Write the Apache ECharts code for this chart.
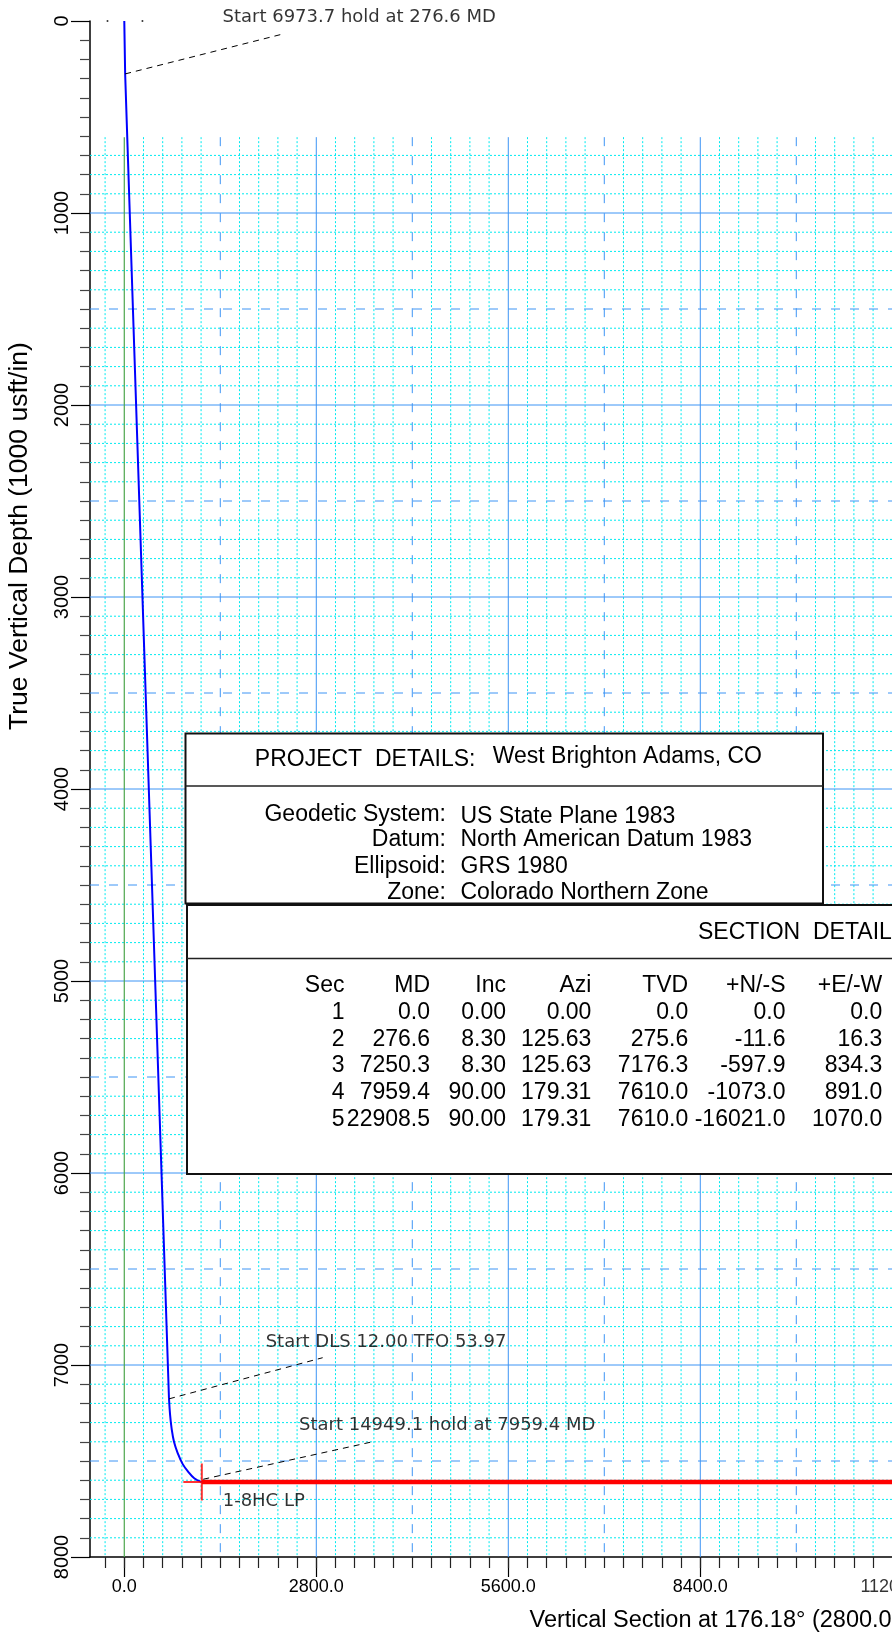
<!DOCTYPE html>
<html><head><meta charset="utf-8">
<script src="https://cdn.jsdelivr.net/npm/echarts@6/dist/echarts.min.js"></script>
<style>html,body{margin:0;padding:0;background:#fff}#c{width:892px;height:1635px}</style>
</head><body><div id="c"></div>
<script>
// ---------------- data ----------------
const tvdMajorStep = 1000;
const tvdMinorStep = 100;
const vsMajorTicks = [0, 2800, 5600, 8400, 11200];
const vsMinorStep = 280;
const gridTopTVD = 605;

// well path (vertical section ft, true vertical depth ft)
const holdVS  = [0, 12.7, 652.2];
const holdTVD = [0, 275.6, 7176.3];
const buildVS  = [652.2, 668, 690, 725, 780, 850, 930, 1020, 1130.6];
const buildTVD = [7176.3, 7260, 7330, 7400, 7460, 7515, 7555, 7590, 7610.0];
const lateralVS  = [1130.6, 16056.8];
const lateralTVD = [7610.0, 7610.0];
const targetName = '1-8HC LP';
const targetVS = 1130.6, targetTVD = 7610.0;

// annotations
const noteTexts = ['Start 6973.7 hold at 276.6 MD', 'Start DLS 12.00 TFO 53.97', 'Start 14949.1 hold at 7959.4 MD', '1-8HC LP'];
const noteVS  = [1432, 2062, 2548, 1435];
const noteTVD = [-21, 6884, 7315, 7710];
const leaderFromVS  = [12.7, 652.2, 1152];
const leaderFromTVD = [275.6, 7176.3, 7595];
const leaderToVS    = [2310, 2893, 3631];
const leaderToTVD   = [68, 6962, 7399];
const dotVS = [-245, 265];
const dotTVD = [0, 0];

// project details
const projectTitle = 'PROJECT  DETAILS:';
const projectName = 'West Brighton Adams, CO';
const projectLabels = ['Geodetic System:', 'Datum:', 'Ellipsoid:', 'Zone:'];
const projectValues = ['US State Plane 1983', 'North American Datum 1983', 'GRS 1980', 'Colorado Northern Zone'];

// section details
const sectionTitle = 'SECTION  DETAILS';
const secHeaders = ['Sec', 'MD', 'Inc', 'Azi', 'TVD', '+N/-S', '+E/-W'];
const secNo  = ['1', '2', '3', '4', '5'];
const secMD  = ['0.0', '276.6', '7250.3', '7959.4', '22908.5'];
const secInc = ['0.00', '8.30', '8.30', '90.00', '90.00'];
const secAzi = ['0.00', '125.63', '125.63', '179.31', '179.31'];
const secTVD = ['0.0', '275.6', '7176.3', '7610.0', '7610.0'];
const secNS  = ['0.0', '-11.6', '-597.9', '-1073.0', '-16021.0'];
const secEW  = ['0.0', '16.3', '834.3', '891.0', '1070.0'];

const xTitle = 'Vertical Section at 176.18\u00b0 (2800.0 usft/in)';
const yTitle = 'True Vertical Depth (1000 usft/in)';

// ---------------- chart ----------------
const GRID_LEFT = 90, GRID_TOP = 21, GRID_H = 1536, PX_PER_2800 = 192;
const X_MIN = -500, Y_MIN = 0, Y_MAX = 8000;
const X_MAX = X_MIN + (892 - GRID_LEFT) * 2800 / PX_PER_2800;
const vsMinorTicks = [];
for (let v = -vsMinorStep; v <= X_MAX; v += vsMinorStep) vsMinorTicks.push(v);
const vsShownMajor = vsMajorTicks.filter(v => v <= X_MAX);
const vsEdgeMajor = vsMajorTicks.filter(v => v > X_MAX);

const CYAN = '#00eaf0', BLUE = '#3d94f5', GREEN = '#4da64d';
const gridStyles = [
  {color: CYAN, width: 1, dash: [2, 2]},
  {color: BLUE, width: 1, dash: [9, 10]},
  {color: BLUE, width: 1, dash: null},
  {color: GREEN, width: 1.2, dash: null}
];
const gridLines = [];
for (let t = 700; t < Y_MAX; t += tvdMinorStep) {
  const k = t % tvdMajorStep === 0 ? 2 : (t % (tvdMajorStep / 2) === 0 ? 1 : 0);
  gridLines.push([X_MIN, t, X_MAX, t, k]);
}
for (const v of vsMinorTicks) {
  let k = 0;
  if (v === 0) k = 3; else if (v % 2800 === 0) k = 2; else if (v % 1400 === 0) k = 1;
  gridLines.push([v, gridTopTVD, v, Y_MAX, k]);
}
gridLines.sort((a, b) => a[4] - b[4]);

const lineRender = (styleFn) => (params, api) => {
  const p1 = api.coord([api.value(0), api.value(1)]);
  const p2 = api.coord([api.value(2), api.value(3)]);
  const s = styleFn(api);
  return {type: 'line', silent: true,
    shape: {x1: p1[0], y1: p1[1], x2: p2[0], y2: p2[1]},
    style: {stroke: s.color, lineWidth: s.width, lineDash: s.dash}};
};

const SANS = '"Liberation Sans", Arial, sans-serif';
const DEJA = '"DejaVu Sans", sans-serif';

const chart = echarts.init(document.getElementById('c'), null, {renderer: 'canvas'});

const graphics = [];
// project box
graphics.push({type: 'rect', z: 100, shape: {x: 185.5, y: 733.5, width: 637.5, height: 170},
  style: {fill: '#fff', stroke: '#111', lineWidth: 2}});
graphics.push({type: 'line', z: 101, shape: {x1: 185.5, y1: 786, x2: 823, y2: 786}, style: {stroke: '#222', lineWidth: 1.5}});
graphics.push({type: 'text', z: 102, style: {text: projectTitle, x: 475.5, y: 759.5, align: 'right', verticalAlign: 'middle', fontSize: 23, fontFamily: SANS, fill: '#000'}});
graphics.push({type: 'text', z: 102, style: {text: projectName, x: 492.7, y: 757, align: 'left', verticalAlign: 'middle', fontSize: 23, fontFamily: SANS, fill: '#000'}});
const labYs = [814.5, 840, 866.5, 893];
const valYs = [816.5, 839.5, 866.5, 893];
projectLabels.forEach((t, i) => graphics.push({type: 'text', z: 102, style: {text: t, x: 446, y: labYs[i], align: 'right', verticalAlign: 'middle', fontSize: 23, fontFamily: SANS, fill: '#000'}}));
projectValues.forEach((t, i) => graphics.push({type: 'text', z: 102, style: {text: t, x: 460.5, y: valYs[i], align: 'left', verticalAlign: 'middle', fontSize: 23, fontFamily: SANS, fill: '#000'}}));
// section box
graphics.push({type: 'rect', z: 100, shape: {x: 187, y: 905, width: 800, height: 269},
  style: {fill: '#fff', stroke: '#111', lineWidth: 2}});
graphics.push({type: 'line', z: 101, shape: {x1: 187, y1: 958.5, x2: 987, y2: 958.5}, style: {stroke: '#222', lineWidth: 1.5}});
graphics.push({type: 'text', z: 102, style: {text: sectionTitle, x: 698, y: 932.5, align: 'left', verticalAlign: 'middle', fontSize: 23, fontFamily: SANS, fill: '#000'}});
const colRight = [344.5, 430, 506, 591.4, 688.2, 785.5, 882.3];
const rowY = [985.7, 1012.3, 1039.3, 1065.7, 1092.7, 1119.7];
const cols = [secNo, secMD, secInc, secAzi, secTVD, secNS, secEW];
secHeaders.forEach((h, c) => {
  graphics.push({type: 'text', z: 102, style: {text: h, x: colRight[c], y: rowY[0], align: 'right', verticalAlign: 'middle', fontSize: 23, fontFamily: SANS, fill: '#000'}});
  cols[c].forEach((v, r) => graphics.push({type: 'text', z: 102, style: {text: v, x: colRight[c], y: rowY[r + 1], align: 'right', verticalAlign: 'middle', fontSize: 23, fontFamily: SANS, fill: '#000'}}));
});
// axis titles
graphics.push({type: 'text', z: 50, style: {text: xTitle, x: 529.5, y: 1621, align: 'left', verticalAlign: 'middle', fontSize: 23.5, fontFamily: SANS, fill: '#000'}});
graphics.push({type: 'text', z: 50, x: 20, y: 536, rotation: Math.PI / 2, style: {text: yTitle, x: 0, y: 0, align: 'center', verticalAlign: 'middle', fontSize: 26.5, fontFamily: SANS, fill: '#000'}});

const option = {
  animation: false,
  backgroundColor: '#fff',
  grid: {left: GRID_LEFT, top: GRID_TOP, right: 0, height: GRID_H},
  xAxis: [
    {type: 'value', min: X_MIN, max: X_MAX, position: 'bottom',
      axisLine: {show: true, onZero: false, lineStyle: {color: '#000', width: 1.5}},
      axisTick: {show: true, length: 20, customValues: vsShownMajor, lineStyle: {color: '#000', width: 1.2}},
      axisLabel: {customValues: vsShownMajor, formatter: v => Number(v).toFixed(1), fontSize: 18, fontFamily: SANS, color: '#000', margin: 21},
      splitLine: {show: false}},
    {type: 'value', min: X_MIN, max: X_MAX, position: 'bottom',
      axisLine: {show: false, onZero: false},
      axisTick: {show: true, length: 11, customValues: vsMinorTicks, lineStyle: {color: '#222', width: 1.2}},
      axisLabel: {show: false}, splitLine: {show: false}}
  ],
  yAxis: {type: 'value', inverse: true, min: Y_MIN, max: Y_MAX, interval: tvdMajorStep,
    axisLine: {show: true, onZero: false, lineStyle: {color: '#000', width: 1.5}},
    axisTick: {show: true, length: 19, lineStyle: {color: '#000', width: 1.2}},
    minorTick: {show: true, splitNumber: tvdMajorStep / tvdMinorStep, length: 10, lineStyle: {color: '#444', width: 1.2}},
    axisLabel: {rotate: 90, fontSize: 20, fontFamily: SANS, color: '#000', margin: 18, formatter: v => String(v)},
    splitLine: {show: false}, minorSplitLine: {show: false}},
  graphic: graphics,
  series: [
    {type: 'custom', name: 'grid', data: gridLines, encode: {x: [0, 2], y: [1, 3]}, z: 1, silent: true,
      renderItem: lineRender(api => gridStyles[api.value(4)])},
    {type: 'line', name: 'hold', data: holdVS.map((v, i) => [v, holdTVD[i]]), symbol: 'none', z: 5,
      lineStyle: {color: '#0000ff', width: 2}},
    {type: 'line', name: 'build', data: buildVS.map((v, i) => [v, buildTVD[i]]), symbol: 'none', z: 5, smooth: 0.4,
      lineStyle: {color: '#0000ff', width: 2}},
    {type: 'line', name: 'lateral', data: lateralVS.map((v, i) => [v, lateralTVD[i]]), symbol: 'none', z: 6,
      lineStyle: {color: '#ff0000', width: 4.5}},
    {type: 'scatter', name: targetName, data: [[targetVS, targetTVD]], z: 7, symbol: 'path://M0,10L20,10M10,0L10,20',
      symbolSize: 37, itemStyle: {color: 'none', borderColor: '#ff0000', borderWidth: 2}},
    {type: 'custom', name: 'leaders', clip: false, z: 8, silent: true,
      data: leaderFromVS.map((v, i) => [v, leaderFromTVD[i], leaderToVS[i], leaderToTVD[i]]), encode: {x: [0, 2], y: [1, 3]},
      renderItem: lineRender(() => ({color: '#000', width: 1, dash: [6, 5]}))},
    {type: 'scatter', name: 'notes', clip: false, z: 9, symbolSize: 0,
      data: noteTexts.map((t, i) => ({name: t, value: [noteVS[i], noteTVD[i]]})),
      label: {show: true, position: 'right', distance: 0, formatter: '{b}', fontSize: 18, fontFamily: DEJA, color: '#000'}},
    {type: 'scatter', name: 'edgeLabels', clip: false, z: 9, symbolSize: 0,
      data: vsEdgeMajor.map(v => ({name: v.toFixed(1), value: [v, Y_MAX]})),
      label: {show: true, position: 'bottom', distance: 21, formatter: '{b}', fontSize: 18, fontFamily: SANS, color: '#000'}},
    {type: 'scatter', name: 'dots', clip: false, z: 9, symbolSize: 2, itemStyle: {color: '#000'},
      data: dotVS.map((v, i) => [v, dotTVD[i]])}
  ]
};
chart.setOption(option);
</script></body></html>
